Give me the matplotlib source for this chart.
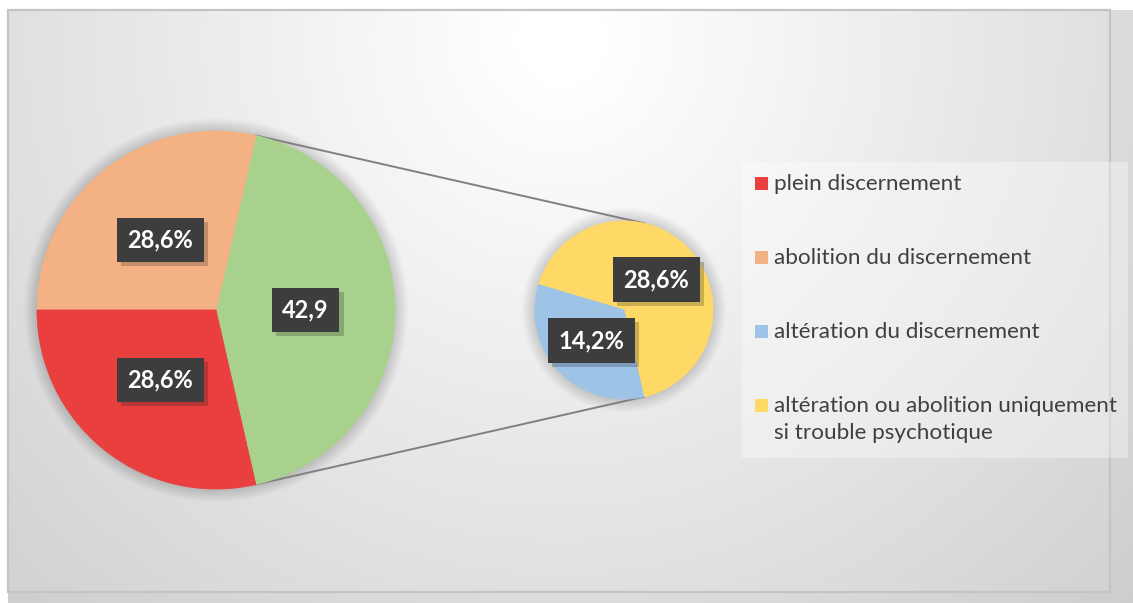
import numpy as np
import matplotlib
matplotlib.use("Agg")
import matplotlib.pyplot as plt
from matplotlib.patches import Rectangle, Circle
import matplotlib.patheffects as pe

# data
categories = ["plein discernement", "abolition du discernement",
              "altération du discernement",
              "altération ou abolition uniquement\nsi trouble psychotique"]
values = [28.6, 28.6, 14.2, 28.6]
value_labels = ["28,6%", "28,6%", "14,2%", "28,6%"]
other_value = 42.9
other_label = "42,9"

colors = ["#E9403F", "#F4B183", "#9DC3E6", "#FFD966"]
other_color = "#A9D18E"

W, H = 1133, 603
plt.rcParams['font.family'] = ['Lato', 'DejaVu Sans']

fig = plt.figure(figsize=(W / 100, H / 100), dpi=100)
ax = fig.add_axes([0, 0, 1, 1])

# background: white page, grey shadow, radial gradient chart area
yy, xx = np.mgrid[0:H, 0:W]
d = np.hypot(xx - 560, yy - 40)
grad = np.clip(1 - 0.00024 * (d - 45), 0, 1)
bg = np.ones((H, W))
inside = (xx >= 8) & (xx <= 1110) & (yy >= 10) & (yy <= 592)
shadow = (xx >= 8) & (yy >= 10)
bg[shadow] = grad[shadow] * 0.985
bg[inside] = grad[inside]
ax.imshow(np.dstack([bg] * 3), extent=(0, W, 0, H), origin='upper', zorder=0)
ax.add_patch(Rectangle((8, H - 592), 1102, 582, fill=False,
                       edgecolor="#c4c4c4", lw=1.6, zorder=1))

main_c = (216, H - 310)
main_r = 179
sec_c = (624, H - 310)
sec_r = 89

# soft glow behind the pies
for c, r in [(main_c, main_r), (sec_c, sec_r)]:
    for k in range(1, 14):
        ax.add_patch(Circle(c, r + k, color="black", alpha=0.011, lw=0, zorder=2))

start = -0.5 * 360 * other_value / (other_value + sum(values[:2]))
main_w, _ = ax.pie([other_value, values[1], values[0]],
                   colors=[other_color, colors[1], colors[0]],
                   startangle=start, center=main_c, radius=main_r)
sec_w, _ = ax.pie([values[3], values[2]], colors=[colors[3], colors[2]],
                  startangle=start, center=sec_c, radius=sec_r)
for w in main_w + sec_w:
    w.set_edgecolor(w.get_facecolor())
    w.set_linewidth(0.6)
    w.set_zorder(3)

# connector lines
g = main_w[0]
for ang in (g.theta1, g.theta2):
    a = np.deg2rad(ang)
    ax.plot([main_c[0] + main_r * np.cos(a), sec_c[0] + sec_r * np.cos(a)],
            [main_c[1] + main_r * np.sin(a), sec_c[1] + sec_r * np.sin(a)],
            color="#808080", lw=1.4, zorder=2.5)


def box_label(w, c, r, txt):
    a = np.deg2rad((w.theta1 + w.theta2) / 2)
    t = ax.text(c[0] + 0.5 * r * np.cos(a), c[1] + 0.5 * r * np.sin(a), txt,
                ha='center', va='center', color='white', fontsize=17,
                fontweight='bold', zorder=5,
                bbox=dict(boxstyle='square,pad=0.45', facecolor='#3d3d3d',
                          lw=0))
    t.get_bbox_patch().set_path_effects(
        [pe.SimplePatchShadow(offset=(3, -3), alpha=0.22), pe.Normal()])


box_label(main_w[0], main_c, main_r, other_label)
box_label(main_w[1], main_c, main_r, value_labels[1])
box_label(main_w[2], main_c, main_r, value_labels[0])
box_label(sec_w[0], sec_c, sec_r, value_labels[3])
box_label(sec_w[1], sec_c, sec_r, value_labels[2])

# legend drawn by hand so the wrapped entry lines up with its square
ax.add_patch(Rectangle((742, H - 458), 386, 296, facecolor='white',
                       alpha=0.35, lw=0, zorder=4))
for i, (lab, col) in enumerate(zip(categories, colors)):
    yc = H - (183.5 + i * 74)
    ax.add_patch(Rectangle((755, yc - 6.5), 13, 13, facecolor=col, lw=0, zorder=5))
    ax.text(774, yc + 9, lab, ha='left', va='top', fontsize=16.2,
            color='#404040', linespacing=1.4, zorder=5)

ax.set_xlim(0, W)
ax.set_ylim(0, H)
ax.set_aspect('auto')
ax.axis('off')
plt.savefig('out.png', dpi=100)
